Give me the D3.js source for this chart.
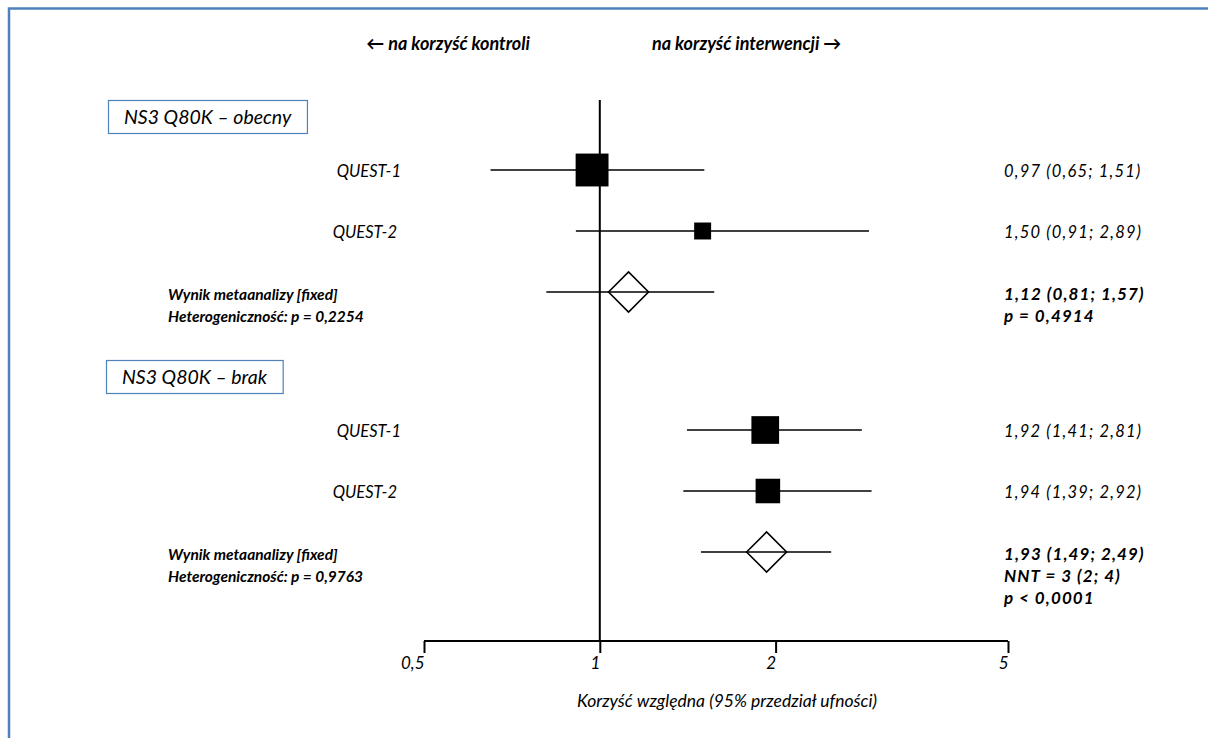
<!DOCTYPE html>
<html>
<head>
<meta charset="utf-8">
<script src="https://cdn.jsdelivr.net/npm/d3@7"></script>
<style>
  body { margin: 0; background: #fff; }
  svg { display: block; font-family: Lato, "Open Sans", sans-serif; }
  text { font-style: italic; fill: #000; }
</style>
</head>
<body>
<svg id="chart" width="1208" height="738"></svg>
<script>
// ---- data ----
var sections = ["NS3 Q80K \u2013 obecny", "NS3 Q80K \u2013 brak"];
var studies = ["QUEST-1", "QUEST-2"];
var rr = [[0.97, 1.50], [1.92, 1.94]];
var lower = [[0.65, 0.91], [1.41, 1.39]];
var upper = [[1.51, 2.89], [2.81, 2.92]];
var weights = [[79, 21], [56, 44]];
var studyLabels = [["0,97 (0,65; 1,51)", "1,50 (0,91; 2,89)"], ["1,92 (1,41; 2,81)", "1,94 (1,39; 2,92)"]];
var metaRR = [1.12, 1.93];
var metaLower = [0.81, 1.49];
var metaUpper = [1.57, 2.49];
var metaLeft = [["Wynik metaanalizy [fixed]", "Heterogeniczno\u015b\u0107: p = 0,2254"],
                ["Wynik metaanalizy [fixed]", "Heterogeniczno\u015b\u0107: p = 0,9763"]];
var metaRight = [["1,12 (0,81; 1,57)", "p = 0,4914"],
                 ["1,93 (1,49; 2,49)", "NNT = 3 (2; 4)", "p < 0,0001"]];
var ticks = [0.5, 1, 2, 5];
var tickLabels = ["0,5", "1", "2", "5"];
var leftHeader = "\u2190 na korzy\u015b\u0107 kontroli";
var rightHeader = "na korzy\u015b\u0107 interwencji \u2192";
var axisTitle = "Korzy\u015b\u0107 wzgl\u0119dna (95% przedzia\u0142 ufno\u015bci)";

var svg = d3.select("#chart");
var blue = "#4f81bd";
var axisY = 641;

var x = d3.scaleLog().domain([0.5, 5]).range([424, 1008]);
var size = d3.scaleSqrt().domain([0, 100]).range([0, 37]);

// outer frame (only left and top edges visible)
svg.append("rect")
    .attr("x", 9).attr("y", 8.5)
    .attr("width", 1220).attr("height", 760)
    .attr("fill", "none")
    .attr("stroke", blue)
    .attr("stroke-width", 2.5);

// direction headers
svg.append("text")
    .attr("x", 530).attr("y", 50)
    .attr("text-anchor", "end")
    .attr("font-weight", "bold")
    .attr("font-size", 18)
    .text(leftHeader);
svg.append("text")
    .attr("x", 652).attr("y", 50)
    .attr("font-weight", "bold")
    .attr("font-size", 18)
    .text(rightHeader);

// no-effect line
svg.append("line")
    .attr("x1", x(1)).attr("x2", x(1))
    .attr("y1", 100).attr("y2", axisY)
    .attr("stroke", "#000").attr("stroke-width", 2);

function sectionTop(s) { return 117 + s * 260; }
function studyY(s, i) { return sectionTop(s) + 53 + i * 61; }
function metaY(s) { return sectionTop(s) + 175; }

sections.forEach(function(name, s) {
    var top = sectionTop(s);

    // section header box
    var g = svg.append("g");
    var t = g.append("text")
        .attr("x", 124 - s * 2).attr("y", top + 7)
        .attr("font-size", 19.5)
        .text(name);
    var bb = t.node().getBBox();
    g.insert("rect", "text")
        .attr("x", bb.x - 15.5).attr("y", top - 16.5)
        .attr("width", bb.width + 31).attr("height", 33)
        .attr("fill", "#fff")
        .attr("stroke", blue).attr("stroke-width", 1.2);

    // studies
    studies.forEach(function(st, i) {
        var y = studyY(s, i);
        svg.append("text")
            .attr("x", 401 - i * 4).attr("y", y + 7)
            .attr("text-anchor", "end")
            .attr("font-size", 16.5)
            .text(st);
        svg.append("line")
            .attr("x1", x(lower[s][i])).attr("x2", x(upper[s][i]))
            .attr("y1", y).attr("y2", y)
            .attr("stroke", "#000").attr("stroke-width", 1.6);
        var w = size(weights[s][i]);
        svg.append("rect")
            .attr("x", x(rr[s][i]) - w / 2).attr("y", y - w / 2)
            .attr("width", w).attr("height", w)
            .attr("fill", "#000");
        svg.append("text")
            .attr("x", 1004).attr("y", y + 7)
            .attr("font-size", 16.5)
            .attr("letter-spacing", 1.2)
            .text(studyLabels[s][i]);
    });

    // meta-analysis
    var my = metaY(s);
    svg.append("line")
        .attr("x1", x(metaLower[s])).attr("x2", x(metaUpper[s]))
        .attr("y1", my).attr("y2", my)
        .attr("stroke", "#000").attr("stroke-width", 1.3);
    var cx = x(metaRR[s]), d = 20;
    svg.append("path")
        .attr("d", "M" + (cx - d) + "," + my + "L" + cx + "," + (my - d) +
                   "L" + (cx + d) + "," + my + "L" + cx + "," + (my + d) + "Z")
        .attr("fill", "none")
        .attr("stroke", "#000").attr("stroke-width", 1.6);

    metaLeft[s].forEach(function(line, k) {
        svg.append("text")
            .attr("x", 168).attr("y", my + 8 + k * 22)
            .attr("font-weight", "bold")
            .attr("font-size", 15.5)
            .text(line);
    });
    metaRight[s].forEach(function(line, k) {
        svg.append("text")
            .attr("x", 1004).attr("y", my + 8 + k * 22)
            .attr("font-weight", "bold")
            .attr("font-size", 17)
            .attr("letter-spacing", 1.1)
            .text(line);
    });
});

// x axis
var axis = svg.append("g")
    .attr("transform", "translate(0," + axisY + ")")
    .call(d3.axisBottom(x)
        .tickValues(ticks)
        .tickSize(12)
        .tickSizeOuter(0)
        .tickFormat(function(v, i) { return tickLabels[i]; }));
axis.attr("font-size", null).attr("font-family", null);
axis.select(".domain").attr("stroke", "#000").attr("stroke-width", 2).attr("d", "M" + x(0.5) + ",0H" + x(5));
axis.selectAll(".tick line").attr("stroke", "#000").attr("stroke-width", 2);
axis.selectAll(".tick text")
    .style("font-size", "17px")
    .style("font-style", "italic")
    .attr("fill", "#000")
    .attr("text-anchor", "end")
    .attr("dx", 0)
    .attr("y", 16);

svg.append("text")
    .attr("x", 727).attr("y", 707)
    .attr("text-anchor", "middle")
    .attr("font-size", 17.5)
    .text(axisTitle);
</script>
</body>
</html>
